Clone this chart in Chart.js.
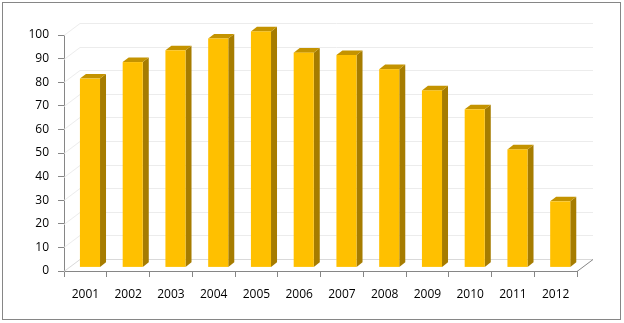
<!DOCTYPE html>
<html>
<head>
<meta charset="utf-8">
<script src="https://cdn.jsdelivr.net/npm/chart.js@4/dist/chart.umd.min.js"></script>
<style>
  html, body { margin: 0; padding: 0; background: #fff; }
  #wrap { width: 624px; height: 323px; }
</style>
</head>
<body>
<div id="wrap"><canvas id="myChart" width="624" height="323"></canvas></div>
<script>
const years = ['2001', '2002', '2003', '2004', '2005', '2006', '2007', '2008', '2009', '2010', '2011', '2012'];
const values = [80, 87, 92, 97, 100, 91, 90, 84, 75, 67, 50, 28];
const yTicks = [0, 10, 20, 30, 40, 50, 60, 70, 80, 90, 100];

// 3d look: offsets of the bar faces and the back wall
const wallDx = 16, wallDy = -12;
const barDx = 4.6, barDy = -3.6;
const depthDx = 6, depthDy = -4.6;

const threeD = {
    id: 'threeD',
    beforeDraw(chart) {
        const ctx = chart.ctx;
        ctx.save();
        ctx.fillStyle = '#fff';
        ctx.fillRect(0, 0, chart.width, chart.height);
        ctx.strokeStyle = '#868686';
        ctx.lineWidth = 1;
        ctx.strokeRect(2.5, 2.5, 618, 317);
        ctx.restore();
    },
    beforeDatasetsDraw(chart) {
        const ctx = chart.ctx;
        const y = chart.scales.y;
        const x = chart.scales.x;
        const l = x.left, r = x.right;
        ctx.save();
        ctx.lineWidth = 1;
        yTicks.forEach(function (v) {
            const py = Math.round(y.getPixelForValue(v)) + 0.5;
            ctx.strokeStyle = v === 0 ? '#d9d9d9' : '#ececec';
            ctx.beginPath();
            ctx.moveTo(l, py);
            ctx.lineTo(l + wallDx, py + wallDy);
            ctx.lineTo(r + wallDx, py + wallDy);
            ctx.stroke();
        });
        // floor right edge
        const by = Math.round(y.getPixelForValue(0)) + 0.5;
        ctx.strokeStyle = '#868686';
        ctx.beginPath();
        ctx.moveTo(r, by);
        ctx.lineTo(r + wallDx, by + wallDy);
        ctx.stroke();
        ctx.restore();
    },
    afterDatasetsDraw(chart) {
        const ctx = chart.ctx;
        const meta = chart.getDatasetMeta(0);
        ctx.save();
        meta.data.forEach(function (bar) {
            const w = bar.width;
            const x0 = bar.x - w / 2 + barDx;
            const x1 = x0 + w;
            const top = bar.y + barDy;
            const bot = bar.base + barDy;
            // side
            ctx.fillStyle = '#a67c00';
            ctx.beginPath();
            ctx.moveTo(x1, top);
            ctx.lineTo(x1 + depthDx, top + depthDy);
            ctx.lineTo(x1 + depthDx, bot + depthDy);
            ctx.lineTo(x1, bot);
            ctx.closePath();
            ctx.fill();
            // top
            ctx.fillStyle = '#c49300';
            ctx.beginPath();
            ctx.moveTo(x0, top);
            ctx.lineTo(x0 + depthDx, top + depthDy);
            ctx.lineTo(x1 + depthDx, top + depthDy);
            ctx.lineTo(x1, top);
            ctx.closePath();
            ctx.fill();
            // front
            ctx.fillStyle = '#ffc000';
            ctx.fillRect(x0, top, w, bot - top);
        });
        ctx.restore();
    }
};

const data = {
    labels: years,
    datasets: [{
        data: values,
        backgroundColor: 'rgba(0,0,0,0)',
        borderWidth: 0,
        categoryPercentage: 1,
        barPercentage: 0.47
    }]
};

const config = {
    type: 'bar',
    data: data,
    plugins: [threeD],
    options: {
        responsive: false,
        animation: false,
        layout: {
            padding: { top: 35, right: 47, left: 0, bottom: 0 }
        },
        plugins: {
            legend: { display: false },
            tooltip: { enabled: false }
        },
        scales: {
            x: {
                afterFit(s) { s.height = 52; },
                grid: {
                    drawOnChartArea: false,
                    color: '#868686',
                    tickLength: 6,
                    offset: true
                },
                border: { color: '#868686' },
                ticks: {
                    color: '#000',
                    padding: 10,
                    maxRotation: 0,
                    font: { family: 'Open Sans', size: 12 }
                }
            },
            y: {
                min: 0,
                max: 100,
                afterFit(s) { s.width = 64; },
                grid: {
                    drawOnChartArea: false,
                    color: '#868686',
                    tickLength: 6
                },
                border: { color: '#868686' },
                ticks: {
                    stepSize: 10,
                    color: '#000',
                    padding: 9,
                    font: { family: 'Open Sans', size: 12 }
                }
            }
        }
    }
};

const myChart = new Chart(
    document.getElementById('myChart'),
    config
);
</script>
</body>
</html>
